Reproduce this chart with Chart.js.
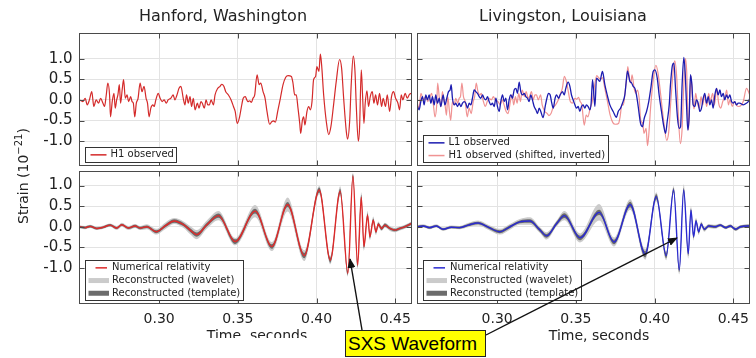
<!DOCTYPE html>
<html lang="en">
<head>
<meta charset="UTF-8">
<title>GW150914 strain</title>
<script src="https://cdn.jsdelivr.net/npm/chart.js@4.4.1/dist/chart.umd.min.js"></script>
<style>
  * { box-sizing: border-box; margin: 0; padding: 0; }
  body {
    width: 756px; height: 358px; position: relative; overflow: hidden;
    background: #fff; color: #222; font-family: "DejaVu Sans", sans-serif;
  }
  canvas { position: absolute; left: 0; top: 0; }
  svg { position: absolute; left: 0; top: 0; }
  .title { position: absolute; top: 8px; font-size: 16px; line-height: 1; white-space: nowrap; transform: translateX(-50%); }
  .xlab { position: absolute; font-size: 14px; line-height: 1; white-space: nowrap; transform: translateX(-50%); }
  .cut { position: absolute; left: 0; top: 320px; width: 340px; height: 18px; overflow: hidden; }
  #ylab {
    position: absolute; left: 21.5px; top: 176px; font-size: 14px; line-height: 1; white-space: nowrap;
    transform: translate(-50%, -50%) rotate(-90deg);
  }
  #ylab sup { font-size: 10px; vertical-align: 6px; }
  #sxs {
    position: absolute; left: 345px; top: 330px; width: 141px; height: 27px;
    background: #ffff00; border: 1px solid #222;
    font-family: "Liberation Sans", Arial, sans-serif; font-size: 19px; line-height: 25px;
    padding-left: 2px; color: #000; white-space: nowrap;
  }
</style>
</head>
<body>
<canvas id="tl" width="756" height="358"></canvas>
<canvas id="tr" width="756" height="358"></canvas>
<canvas id="bl" width="756" height="358"></canvas>
<canvas id="br" width="756" height="358"></canvas>

<svg width="756" height="358">
  <defs>
    <marker id="head" markerUnits="userSpaceOnUse" markerWidth="10" markerHeight="8" refX="9" refY="4" orient="auto">
      <path d="M0,0 L10,4 L0,8 z" fill="#111"/>
    </marker>
  </defs>
  <line x1="362" y1="330" x2="350" y2="259" stroke="#111" stroke-width="1.4" marker-end="url(#head)"/>
  <line x1="486" y1="335" x2="677" y2="238" stroke="#111" stroke-width="1.4" marker-end="url(#head)"/>
</svg>

<div class="title" style="left:223px">Hanford, Washington</div>
<div class="title" style="left:563px">Livingston, Louisiana</div>
<div id="ylab">Strain (10<sup>−21</sup>)</div>
<div class="cut"><div class="xlab" style="left:257px; top:8px">Time, seconds</div></div>
<div class="xlab" style="left:599px; top:328px">Time, seconds</div>
<div id="sxs">SXS Waveform</div>

<script>
// axis ticks
const xTicks = [0.30, 0.35, 0.40, 0.45];
const yTicks = [-1.0, -0.5, 0.0, 0.5, 1.0];

// Hanford observed strain (10^-21) against time (s)
const h1ObsTime = [
  0.2494, 0.2515, 0.2530, 0.2543, 0.2557, 0.2572, 0.2585, 0.2600, 0.2615, 0.2628,
  0.2643, 0.2653, 0.2664, 0.2674, 0.2685, 0.2691, 0.2702, 0.2713, 0.2721, 0.2730,
  0.2738, 0.2747, 0.2755, 0.2766, 0.2774, 0.2785, 0.2796, 0.2806, 0.2819, 0.2828,
  0.2836, 0.2845, 0.2855, 0.2866, 0.2879, 0.2891, 0.2904, 0.2917, 0.2926, 0.2936,
  0.2947, 0.2960, 0.2968, 0.2979, 0.2994, 0.3006, 0.3019, 0.3032, 0.3045, 0.3057,
  0.3074, 0.3089, 0.3100, 0.3113, 0.3126, 0.3138, 0.3153, 0.3164, 0.3174, 0.3185,
  0.3196, 0.3206, 0.3217, 0.3228, 0.3243, 0.3253, 0.3266, 0.3274, 0.3287, 0.3298,
  0.3309, 0.3319, 0.3330, 0.3345, 0.3355, 0.3372, 0.3387, 0.3398, 0.3411, 0.3423,
  0.3440, 0.3457, 0.3472, 0.3483, 0.3496, 0.3511, 0.3521, 0.3534, 0.3547, 0.3557,
  0.3563, 0.3575, 0.3586, 0.3596, 0.3607, 0.3622, 0.3635, 0.3645, 0.3660, 0.3673,
  0.3685, 0.3702, 0.3715, 0.3728, 0.3738, 0.3753, 0.3770, 0.3787, 0.3804, 0.3819,
  0.3840, 0.3850, 0.3861, 0.3871, 0.3882, 0.3893, 0.3899, 0.3910, 0.3918, 0.3926,
  0.3939, 0.3950, 0.3960, 0.3971, 0.3981, 0.3994, 0.4002, 0.4015, 0.4024, 0.4032,
  0.4045, 0.4062, 0.4077, 0.4091, 0.4108, 0.4125, 0.4146, 0.4159, 0.4172, 0.4189,
  0.4197, 0.4210, 0.4220, 0.4233, 0.4244, 0.4252, 0.4265, 0.4273, 0.4284, 0.4292,
  0.4301, 0.4309, 0.4320, 0.4330, 0.4341, 0.4354, 0.4364, 0.4375, 0.4387, 0.4400,
  0.4413, 0.4423, 0.4438, 0.4449, 0.4464, 0.4476, 0.4489, 0.4502, 0.4517, 0.4527,
  0.4538, 0.4548, 0.4563, 0.4576, 0.4591, 0.4605, 0.4632, 0.4653, 0.4674
];
const h1ObsStrain = [
  0.00, -0.04, 0.04, -0.12, 0.00, 0.20, -0.16, 0.00, -0.08, 0.04,
  -0.08, -0.16, 0.12, 0.41, 0.12, -0.41, -0.04, 0.16, -0.20, 0.00,
  0.12, 0.37, -0.08, 0.28, 0.49, 0.04, 0.12, -0.04, 0.08, -0.04,
  -0.08, -0.41, -0.08, 0.04, 0.41, 0.20, 0.33, 0.04, -0.08, -0.41,
  -0.20, -0.12, -0.16, 0.00, 0.16, 0.04, -0.04, 0.00, -0.08, 0.00,
  0.04, 0.12, 0.00, 0.12, 0.28, 0.33, 0.04, -0.12, 0.12, -0.08,
  0.08, -0.16, 0.04, -0.24, -0.08, -0.20, -0.04, -0.08, -0.20, 0.00,
  -0.12, -0.12, 0.00, -0.12, 0.12, 0.28, 0.33, 0.38, 0.33, 0.20,
  0.12, 0.00, -0.16, -0.28, -0.57, -0.41, -0.20, 0.04, 0.08, 0.00,
  -0.04, -0.02, -0.06, 0.04, 0.12, 0.61, 0.37, 0.41, 0.20, 0.04,
  -0.28, -0.59, -0.53, -0.51, -0.54, -0.28, 0.04, 0.37, 0.55, 0.59,
  0.57, 0.41, 0.12, 0.12, -0.20, -0.57, -0.81, -0.49, -0.41, -0.61,
  -0.28, -0.16, -0.24, -0.04, 0.49, 0.57, 0.81, 0.69, 1.11, 0.85,
  0.12, -0.53, -0.84, -0.65, -0.12, 0.45, 0.98, 0.77, 0.04, -0.77,
  -0.95, -0.53, 0.37, 1.06, 0.69, -0.12, -1.00, -0.69, 0.73, 0.12,
  -0.57, -0.08, 0.22, -0.16, 0.08, 0.20, -0.08, 0.12, -0.12, 0.16,
  -0.16, 0.04, -0.16, 0.12, -0.28, 0.08, 0.20, 0.04, -0.08, -0.24,
  0.12, 0.00, 0.16, 0.04, 0.14, 0.16, 0.04, -0.28, -0.12
];
// Hanford arrives later: shift and sign flip used for the Livingston overlay
const H1_SHIFT = 0.0069;

// Livingston observed strain
const l1ObsTime = [
  0.2494, 0.2504, 0.2515, 0.2526, 0.2536, 0.2547, 0.2557, 0.2568, 0.2579, 0.2589,
  0.2600, 0.2610, 0.2621, 0.2632, 0.2642, 0.2657, 0.2668, 0.2680, 0.2691, 0.2701,
  0.2708, 0.2716, 0.2727, 0.2737, 0.2748, 0.2759, 0.2769, 0.2780, 0.2790, 0.2801,
  0.2812, 0.2822, 0.2833, 0.2843, 0.2854, 0.2864, 0.2875, 0.2886, 0.2896, 0.2907,
  0.2917, 0.2928, 0.2939, 0.2949, 0.2960, 0.2970, 0.2981, 0.2992, 0.3002, 0.3013,
  0.3023, 0.3034, 0.3045, 0.3055, 0.3066, 0.3076, 0.3087, 0.3097, 0.3108, 0.3119,
  0.3129, 0.3140, 0.3150, 0.3161, 0.3172, 0.3182, 0.3193, 0.3203, 0.3214, 0.3224,
  0.3235, 0.3246, 0.3256, 0.3267, 0.3277, 0.3292, 0.3305, 0.3316, 0.3326, 0.3337,
  0.3347, 0.3356, 0.3368, 0.3377, 0.3390, 0.3400, 0.3415, 0.3426, 0.3436, 0.3451,
  0.3462, 0.3472, 0.3483, 0.3494, 0.3504, 0.3515, 0.3525, 0.3536, 0.3546, 0.3557,
  0.3567, 0.3578, 0.3589, 0.3597, 0.3606, 0.3621, 0.3631, 0.3652, 0.3669, 0.3684,
  0.3699, 0.3716, 0.3737, 0.3758, 0.3769, 0.3784, 0.3796, 0.3811, 0.3822, 0.3828,
  0.3843, 0.3854, 0.3864, 0.3875, 0.3885, 0.3896, 0.3911, 0.3923, 0.3934, 0.3949,
  0.3963, 0.3976, 0.3991, 0.4002, 0.4017, 0.4029, 0.4044, 0.4059, 0.4070, 0.4080,
  0.4093, 0.4101, 0.4114, 0.4123, 0.4133, 0.4146, 0.4156, 0.4165, 0.4175, 0.4186,
  0.4194, 0.4203, 0.4211, 0.4220, 0.4228, 0.4237, 0.4245, 0.4256, 0.4266, 0.4277,
  0.4288, 0.4298, 0.4309, 0.4319, 0.4330, 0.4341, 0.4351, 0.4362, 0.4372, 0.4383,
  0.4393, 0.4404, 0.4415, 0.4425, 0.4436, 0.4446, 0.4457, 0.4467, 0.4478, 0.4489,
  0.4499, 0.4510, 0.4520, 0.4531, 0.4541, 0.4563, 0.4584, 0.4595, 0.4605
];
const l1ObsStrain = [
  -0.16, -0.24, -0.04, 0.08, -0.12, 0.12, 0.00, 0.12, -0.08, 0.08,
  -0.12, 0.12, -0.08, 0.04, -0.16, 0.12, -0.12, 0.04, 0.20, 0.24,
  0.37, 0.04, -0.12, -0.08, -0.16, -0.08, -0.16, -0.08, -0.04, -0.08,
  -0.20, -0.08, -0.12, 0.04, 0.24, 0.20, 0.16, 0.08, 0.04, 0.12,
  0.04, 0.00, 0.08, -0.04, -0.12, -0.08, -0.16, 0.04, -0.16, -0.28,
  -0.04, 0.12, -0.04, 0.04, -0.24, 0.00, 0.12, 0.04, 0.24, 0.28,
  0.16, 0.43, 0.20, 0.12, 0.16, 0.08, 0.04, -0.04, 0.12, 0.00,
  -0.16, -0.24, -0.33, -0.20, -0.28, -0.43, -0.16, 0.04, 0.16, 0.12,
  -0.08, -0.20, 0.04, 0.12, 0.04, 0.12, 0.20, 0.12, 0.28, 0.43,
  0.33, 0.12, 0.00, -0.12, -0.20, -0.16, -0.28, -0.16, -0.12, -0.20,
  -0.12, -0.16, -0.24, -0.08, 0.49, -0.16, 0.53, 0.45, 0.69, 0.37,
  0.12, -0.12, -0.28, -0.42, -0.28, -0.20, -0.08, 0.12, 0.53, 0.70,
  0.45, 0.41, 0.33, 0.28, 0.12, -0.16, -0.57, -0.65, -0.45, -0.28,
  -0.04, 0.28, 0.69, 0.73, 0.53, 0.12, -0.28, -0.65, -0.81, -0.53,
  -0.12, 0.37, 0.85, 0.89, 0.28, -0.45, -0.69, -0.65, 0.37, 1.03,
  0.69, -0.12, -0.73, -0.37, 0.61, 0.37, -0.12, -0.16, 0.00, -0.08,
  -0.28, -0.20, 0.04, 0.16, -0.08, 0.08, -0.12, 0.00, -0.20, 0.12,
  0.28, 0.12, 0.24, 0.08, 0.16, 0.00, 0.12, 0.04, 0.12, -0.04,
  -0.08, -0.04, -0.12, -0.08, -0.08, -0.12, -0.08, -0.04, 0.04
];

// Numerical relativity waveform for Hanford, with reconstruction spreads
const h1NrTime = [
  0.2494, 0.2530, 0.2561, 0.2604, 0.2646, 0.2689, 0.2731, 0.2763, 0.2805, 0.2847,
  0.2879, 0.2922, 0.2981, 0.3038, 0.3095, 0.3155, 0.3197, 0.3239, 0.3303, 0.3377,
  0.3483, 0.3610, 0.3716, 0.3816, 0.3922, 0.4017, 0.4087, 0.4150, 0.4199, 0.4231,
  0.4261, 0.4284, 0.4301, 0.4324, 0.4339, 0.4360, 0.4377, 0.4392, 0.4413, 0.4434,
  0.4466, 0.4498, 0.4529, 0.4561, 0.4603
];
const h1NrStrain = [
  0.00, -0.02, 0.01, -0.04, -0.01, 0.04, -0.03, 0.05, -0.03, 0.02,
  -0.03, 0.00, -0.12, 0.02, 0.14, 0.05, -0.08, -0.19, 0.05, 0.27,
  -0.36, 0.38, -0.48, 0.54, -0.70, 0.89, -0.81, 0.86, -1.13, 1.23,
  -0.93, 0.72, -0.48, 0.28, -0.24, 0.16, -0.12, 0.06, -0.04, 0.04,
  -0.04, -0.08, -0.04, 0.00, 0.08
];
const h1WaveletSpread = [
  0.04, 0.04, 0.04, 0.04, 0.04, 0.04, 0.05, 0.05, 0.05, 0.05,
  0.05, 0.06, 0.07, 0.08, 0.07, 0.08, 0.10, 0.11, 0.10, 0.11,
  0.09, 0.15, 0.11, 0.17, 0.13, 0.10, 0.10, 0.12, 0.08, 0.08,
  0.10, 0.12, 0.10, 0.10, 0.09, 0.09, 0.08, 0.07, 0.06, 0.06,
  0.06, 0.05, 0.05, 0.05, 0.05
];
const h1TemplateSpread = [
  0.025, 0.025, 0.025, 0.025, 0.025, 0.025, 0.025, 0.025, 0.025, 0.03,
  0.03, 0.03, 0.035, 0.035, 0.04, 0.04, 0.045, 0.05, 0.045, 0.05,
  0.055, 0.06, 0.055, 0.06, 0.065, 0.06, 0.06, 0.06, 0.05, 0.05,
  0.06, 0.06, 0.05, 0.05, 0.05, 0.04, 0.04, 0.04, 0.04, 0.04,
  0.03, 0.03, 0.03, 0.03, 0.03
];

// Numerical relativity waveform for Livingston, with reconstruction spreads
const l1NrTime = [
  0.2494, 0.2529, 0.2571, 0.2614, 0.2656, 0.2709, 0.2762, 0.2815, 0.2879, 0.2943,
  0.3017, 0.3081, 0.3144, 0.3208, 0.3272, 0.3314, 0.3378, 0.3427, 0.3527, 0.3648,
  0.3743, 0.3845, 0.3941, 0.4011, 0.4074, 0.4121, 0.4157, 0.4185, 0.4214, 0.4231,
  0.4248, 0.4263, 0.4280, 0.4297, 0.4316, 0.4344, 0.4386, 0.4418, 0.4450, 0.4482,
  0.4514, 0.4546, 0.4588, 0.4603
];
const l1NrStrain = [
  0.00, 0.02, -0.02, 0.02, -0.06, -0.01, -0.02, 0.04, 0.09, -0.01,
  -0.12, 0.00, 0.12, 0.14, -0.08, -0.22, 0.08, 0.27, -0.27, 0.35,
  -0.37, 0.54, -0.67, 0.73, -0.70, 0.89, -1.05, 0.89, -0.65, 0.40,
  -0.24, 0.14, -0.12, 0.06, -0.06, 0.02, 0.00, 0.04, -0.02, 0.02,
  -0.06, 0.00, 0.02, 0.02
];
const l1WaveletSpread = [
  0.04, 0.04, 0.04, 0.04, 0.04, 0.04, 0.04, 0.05, 0.06, 0.06,
  0.07, 0.07, 0.07, 0.09, 0.07, 0.09, 0.07, 0.11, 0.11, 0.20,
  0.11, 0.13, 0.13, 0.11, 0.11, 0.10, 0.10, 0.14, 0.12, 0.10,
  0.09, 0.08, 0.08, 0.07, 0.06, 0.05, 0.05, 0.04, 0.04, 0.04,
  0.04, 0.04, 0.04, 0.04
];
const l1TemplateSpread = [
  0.025, 0.025, 0.025, 0.025, 0.025, 0.025, 0.025, 0.03, 0.03, 0.03,
  0.035, 0.035, 0.035, 0.045, 0.045, 0.045, 0.045, 0.055, 0.055, 0.065,
  0.055, 0.065, 0.075, 0.065, 0.065, 0.055, 0.055, 0.055, 0.06, 0.05,
  0.04, 0.04, 0.04, 0.04, 0.03, 0.03, 0.03, 0.03, 0.03, 0.03,
  0.03, 0.03, 0.03, 0.03
];

const W = 756, H = 358;
const X_MIN = 0.2494, X_MAX = 0.4603;
const GRID = '#e3e3e3';
const FRAME = '#4a4a4a';

const pts = (ts, vs) => ts.map((t, i) => ({ x: t, y: vs[i] }));
const band = (ts, vs, sp, sign) => ts.map((t, i) => ({ x: t, y: vs[i] + sign * sp[i] }));

// box outline plus short inward ticks on all four sides
const framePlugin = {
  id: 'panelFrame',
  afterDatasetsDraw(chart) {
    const { ctx, chartArea: a, scales: { x, y } } = chart;
    ctx.save();
    ctx.strokeStyle = FRAME;
    ctx.lineWidth = 1;
    ctx.beginPath();
    xTicks.forEach(v => {
      const px = Math.round(x.getPixelForValue(v)) + 0.5;
      ctx.moveTo(px, a.top); ctx.lineTo(px, a.top + 5);
      ctx.moveTo(px, a.bottom); ctx.lineTo(px, a.bottom - 5);
    });
    yTicks.forEach(v => {
      const py = Math.round(y.getPixelForValue(v)) + 0.5;
      ctx.moveTo(a.left, py); ctx.lineTo(a.left + 5, py);
      ctx.moveTo(a.right, py); ctx.lineTo(a.right - 5, py);
    });
    ctx.stroke();
    ctx.strokeRect(a.left, a.top, a.right - a.left, a.bottom - a.top);
    ctx.restore();
  }
};

// boxed legend in the lower-left corner of each panel
const legendPlugin = {
  id: 'panelLegend',
  afterDatasetsDraw(chart, args, opts) {
    const { ctx, chartArea: a } = chart;
    const items = chart.data.datasets.filter(d => d.label);
    const row = 12.7;
    ctx.save();
    ctx.font = '10px "DejaVu Sans"';
    const textW = Math.max(...items.map(d => ctx.measureText(d.label).width));
    const h = Math.round(items.length * row + 2);
    const left = Math.round(a.left + 5) + 0.5;
    const top = Math.round(a.bottom - 3.5 - h) + 0.5;
    const w = Math.round(opts.textX + textW + 3);
    ctx.fillStyle = '#fff';
    ctx.fillRect(left, top, w, h);
    ctx.strokeStyle = '#333';
    ctx.lineWidth = 1;
    ctx.strokeRect(left, top, w, h);
    ctx.textBaseline = 'middle';
    items.forEach((d, i) => {
      const cy = top + 1 + row * (i + 0.5);
      if (d.fill) {
        ctx.fillStyle = d.backgroundColor;
        ctx.fillRect(left + opts.band[0], cy - 2.5, opts.band[1] - opts.band[0], 5);
      } else {
        ctx.strokeStyle = d.borderColor;
        ctx.lineWidth = 1.5;
        ctx.beginPath();
        ctx.moveTo(left + opts.line[0], cy);
        ctx.lineTo(left + opts.line[1], cy);
        ctx.stroke();
      }
      ctx.fillStyle = '#222';
      ctx.fillText(d.label, left + opts.textX, cy);
    });
    ctx.restore();
  }
};

// area = [left, top, right, bottom] of the plot box in page pixels.
// Axes that carry labels take up the whole margin so their labels are not clipped.
function panel(id, area, yRange, datasets, cfg) {
  const yW = cfg.yLabels ? area[0] : 0;
  const xH = cfg.xLabels ? H - area[3] : 0;
  return new Chart(document.getElementById(id), {
    type: 'line',
    data: { datasets },
    options: {
      responsive: false,
      animation: false,
      events: [],
      parsing: false,
      layout: { padding: { left: area[0] - yW, top: area[1], right: W - area[2], bottom: H - area[3] - xH } },
      elements: { point: { radius: 0 } },
      plugins: {
        legend: { display: false },
        tooltip: { enabled: false },
        panelLegend: cfg.legend
      },
      scales: {
        x: {
          type: 'linear', min: X_MIN, max: X_MAX,
          afterBuildTicks: s => { s.ticks = xTicks.map(v => ({ value: v })); },
          afterFit: s => { s.height = xH; s.paddingLeft = 0; s.paddingRight = 0; },
          grid: { color: GRID, drawTicks: false },
          border: { display: false },
          ticks: {
            display: cfg.xLabels, padding: 7, color: '#222', maxRotation: 0, autoSkip: false,
            font: { family: '"DejaVu Sans"', size: 14 },
            callback: v => v.toFixed(2)
          }
        },
        y: {
          type: 'linear', min: yRange[0], max: yRange[1],
          afterBuildTicks: s => { s.ticks = yTicks.map(v => ({ value: v })); },
          afterFit: s => { s.width = yW; s.paddingTop = 0; s.paddingBottom = 0; },
          grid: { color: GRID, drawTicks: false },
          border: { display: false },
          ticks: {
            display: cfg.yLabels, padding: 7, color: '#222', autoSkip: false,
            font: { family: '"DejaVu Sans"', size: 15 },
            callback: v => v.toFixed(1)
          }
        }
      }
    },
    plugins: [framePlugin, legendPlugin]
  });
}

function nrDatasets(time, strain, wavelet, template, color) {
  return [
    { label: 'Numerical relativity', data: pts(time, strain), borderColor: color, borderWidth: 1.4,
      cubicInterpolationMode: 'monotone', order: 0 },
    { label: 'Reconstructed (wavelet)', data: band(time, strain, wavelet, 1), fill: '+1',
      backgroundColor: '#cbcbcb', borderColor: 'transparent', borderWidth: 0,
      cubicInterpolationMode: 'monotone', order: 2 },
    { data: band(time, strain, wavelet, -1), borderColor: 'transparent', borderWidth: 0,
      cubicInterpolationMode: 'monotone', order: 2 },
    { label: 'Reconstructed (template)', data: band(time, strain, template, 1), fill: '+1',
      backgroundColor: '#6c6c6c', borderColor: 'transparent', borderWidth: 0,
      cubicInterpolationMode: 'monotone', order: 1 },
    { data: band(time, strain, template, -1), borderColor: 'transparent', borderWidth: 0,
      cubicInterpolationMode: 'monotone', order: 1 }
  ];
}

const TOP_Y = [-1.59, 1.61];
const BOTTOM_Y = [-1.86, 1.34];
const topLegend = { line: [5, 21], band: [3, 23], textX: 25 };
const bottomLegend = { line: [10, 21.5], band: [3, 23.5], textX: 26.5 };

panel('tl', [79.5, 33.5, 411.5, 165.5], TOP_Y, [
  { label: 'H1 observed', data: pts(h1ObsTime, h1ObsStrain), borderColor: '#d42a2a', borderWidth: 1.2,
    cubicInterpolationMode: 'monotone' }
], { xLabels: false, yLabels: true, legend: topLegend });

panel('tr', [417.5, 33.5, 749.5, 165.5], TOP_Y, [
  { label: 'L1 observed', data: pts(l1ObsTime, l1ObsStrain), borderColor: '#1c1cb0', borderWidth: 1.3,
    cubicInterpolationMode: 'monotone' },
  { label: 'H1 observed (shifted, inverted)',
    data: h1ObsTime.map((t, i) => ({ x: t - H1_SHIFT, y: -h1ObsStrain[i] })),
    borderColor: 'rgba(236,120,120,0.8)', borderWidth: 1.2, cubicInterpolationMode: 'monotone' }
], { xLabels: false, yLabels: false, legend: topLegend });

panel('bl', [79.5, 171.5, 411.5, 303.5], BOTTOM_Y,
  nrDatasets(h1NrTime, h1NrStrain, h1WaveletSpread, h1TemplateSpread, '#dd2a2a'),
  { xLabels: true, yLabels: true, legend: bottomLegend });

panel('br', [417.5, 171.5, 749.5, 303.5], BOTTOM_Y,
  nrDatasets(l1NrTime, l1NrStrain, l1WaveletSpread, l1TemplateSpread, '#2a2ad0'),
  { xLabels: true, yLabels: false, legend: bottomLegend });
</script>
</body>
</html>
